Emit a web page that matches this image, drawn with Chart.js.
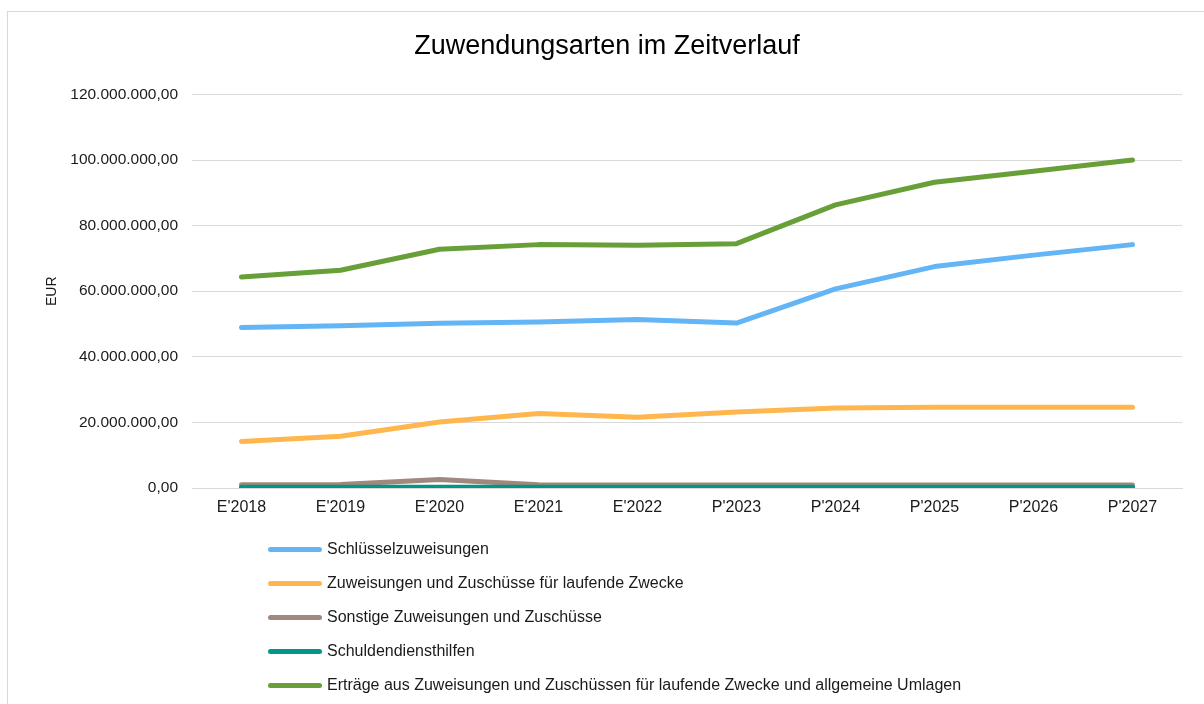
<!DOCTYPE html>
<html lang="de">
<head>
<meta charset="utf-8">
<title>Zuwendungsarten im Zeitverlauf</title>
<script src="https://cdn.jsdelivr.net/npm/chart.js@4.4.1/dist/chart.umd.min.js"></script>
<style>
    html, body {
        margin: 0;
        padding: 0;
        background: #ffffff;
        overflow: hidden;
    }
    #frame {
        position: absolute;
        left: 7px;
        top: 11px;
        width: 1210px;
        height: 710px;
        border: 1px solid #d9d9d9;
        box-sizing: border-box;
    }
    #wrap {
        position: absolute;
        left: 0;
        top: 0;
        width: 1204px;
        height: 704px;
    }
    #legend {
        position: absolute;
        left: 268px;
        top: 532px;
        margin: 0;
        padding: 0;
        list-style: none;
        font-family: "Liberation Sans", Arial, sans-serif;
        font-size: 16px;
        color: #1a1a1a;
    }
    #legend li {
        height: 34px;
        display: flex;
        align-items: center;
    }
    #legend .swatch {
        display: inline-block;
        width: 54px;
        height: 5px;
        border-radius: 3px;
        margin-right: 5px;
    }
</style>
</head>
<body>
<div id="frame"></div>
<div id="wrap"><canvas id="zuwendungChart" width="1204" height="704"></canvas></div>
<ul id="legend"></ul>

<script>
// Kategorien (E = Ergebnis, P = Plan)
const jahre = ["E'2018", "E'2019", "E'2020", "E'2021", "E'2022", "P'2023", "P'2024", "P'2025", "P'2026", "P'2027"];

// Werte in EUR
const schluesselzuweisungen = [48900000, 49500000, 50200000, 50600000, 51400000, 50300000, 60700000, 67500000, 71000000, 74200000];
const laufendeZwecke = [14200000, 15800000, 20100000, 22700000, 21600000, 23200000, 24400000, 24600000, 24600000, 24600000];
const sonstigeZuweisungen = [1000000, 1100000, 2600000, 1000000, 900000, 900000, 900000, 900000, 900000, 900000];
const schuldendiensthilfen = [200000, 200000, 200000, 200000, 200000, 200000, 200000, 200000, 200000, 200000];
const ertraegeGesamt = [64300000, 66400000, 72800000, 74200000, 74000000, 74500000, 86300000, 93200000, 96600000, 100000000];

const serienNamen = [
    'Schlüsselzuweisungen',
    'Zuweisungen und Zuschüsse für laufende Zwecke',
    'Sonstige Zuweisungen und Zuschüsse',
    'Schuldendiensthilfen',
    'Erträge aus Zuweisungen und Zuschüssen für laufende Zwecke und allgemeine Umlagen'
];
const serienFarben = ['#64b5f6', '#ffb74d', '#a1887f', '#009688', '#689f38'];
const serienWerte = [schluesselzuweisungen, laufendeZwecke, sonstigeZuweisungen, schuldendiensthilfen, ertraegeGesamt];

// Achse: 0 bis 120 Mio. in 20-Mio.-Schritten
const yMin = 0;
const yMax = 120000000;
const yStep = 20000000;

const schrift = '"Liberation Sans", Arial, sans-serif';

function formatEuro(wert) {
    const ganz = Math.round(wert).toString().replace(/\B(?=(\d{3})+(?!\d))/g, '.');
    return ganz + ',00';
}

function erstelleLegende() {
    const liste = document.getElementById('legend');
    serienNamen.forEach((name, i) => {
        const li = document.createElement('li');
        li.innerHTML = `<span class="swatch" style="background:${serienFarben[i]}"></span><span>${name}</span>`;
        liste.appendChild(li);
    });
}

function zeichneChart() {
    const ctx = document.getElementById('zuwendungChart').getContext('2d');

    const datasets = serienNamen.map((name, i) => ({
        label: name,
        data: serienWerte[i],
        borderColor: serienFarben[i],
        backgroundColor: serienFarben[i],
        borderWidth: 5,
        borderCapStyle: 'round',
        borderJoinStyle: 'round',
        pointRadius: 0,
        tension: 0,
        fill: false,
        // spätere Serien liegen oben, wie im Original
        order: serienNamen.length - i
    }));

    new Chart(ctx, {
        type: 'line',
        data: {
            labels: jahre,
            datasets: datasets
        },
        options: {
            responsive: false,
            animation: false,
            layout: {
                padding: { left: 32, right: 22, top: 0, bottom: 176 }
            },
            plugins: {
                legend: { display: false },
                tooltip: { enabled: false },
                title: {
                    display: true,
                    text: 'Zuwendungsarten im Zeitverlauf',
                    color: '#000000',
                    font: { family: schrift, size: 27, weight: 'normal' },
                    padding: { top: 30, bottom: 32 }
                }
            },
            scales: {
                x: {
                    offset: true,
                    grid: { display: false, drawTicks: false },
                    border: { display: true, color: '#d9d9d9', width: 1 },
                    ticks: {
                        color: '#1a1a1a',
                        font: { family: schrift, size: 16 },
                        padding: 10,
                        maxRotation: 0,
                        autoSkip: false
                    },
                    afterFit: (scale) => { scale.height = 40; }
                },
                y: {
                    min: yMin,
                    max: yMax,
                    grid: { color: '#d9d9d9', lineWidth: 1, drawTicks: false },
                    border: { display: false },
                    ticks: {
                        stepSize: yStep,
                        color: '#1a1a1a',
                        font: { family: schrift, size: 15.5 },
                        padding: 14,
                        callback: (wert) => formatEuro(wert)
                    },
                    title: {
                        display: true,
                        text: 'EUR',
                        color: '#1a1a1a',
                        font: { family: schrift, size: 14 },
                        padding: { top: 12, bottom: 0 }
                    },
                    afterFit: (scale) => { scale.width = 160; }
                }
            }
        }
    });
}

document.addEventListener('DOMContentLoaded', function() {
    erstelleLegende();
    zeichneChart();
});
</script>
</body>
</html>
